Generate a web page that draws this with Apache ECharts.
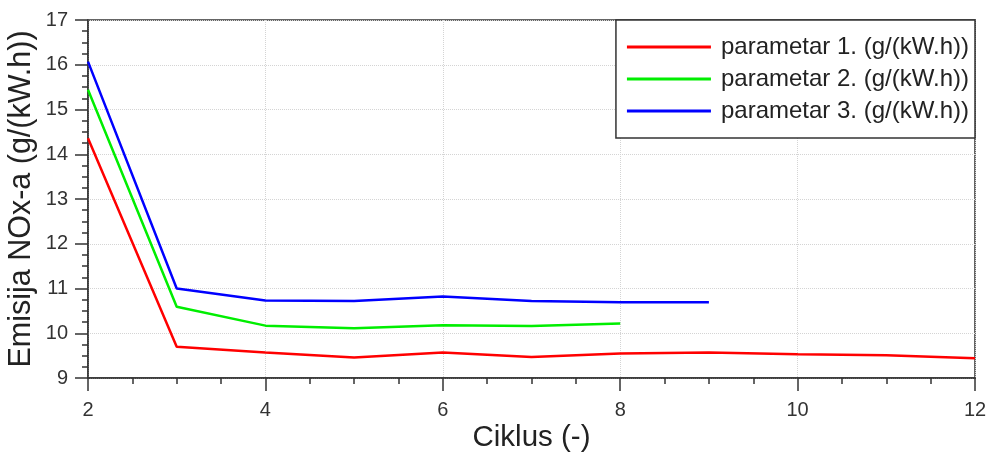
<!DOCTYPE html>
<html>
<head>
<meta charset="utf-8">
<script src="https://cdn.jsdelivr.net/npm/echarts@6/dist/echarts.min.js"></script>
<style>
  html, body { margin: 0; padding: 0; background: #fff; }
  #chart { width: 991px; height: 458px; }
</style>
</head>
<body>
<div id="chart"></div>
<script>
// ciklusi (x) i vrijednosti emisije po parametru
var cycles = [2, 3, 4, 5, 6, 7, 8, 9, 10, 11, 12];
var param1 = [14.36, 9.70, 9.57, 9.46, 9.57, 9.47, 9.55, 9.57, 9.53, 9.51, 9.44];
var param2 = [15.44, 10.59, 10.17, 10.11, 10.18, 10.16, 10.22];
var param3 = [16.07, 11.00, 10.73, 10.72, 10.82, 10.72, 10.69, 10.69];
var seriesNames = ["parametar 1. (g/(kW.h))", "parametar 2. (g/(kW.h))", "parametar 3. (g/(kW.h))"];
var seriesColors = ["#ff0000", "#00ee00", "#0000ff"];

function pairs(vals) {
  return vals.map(function (v, i) { return [cycles[i], v]; });
}

var myChart = echarts.init(document.getElementById("chart"));
var fontName = "Liberation Sans";

var option = {
  animation: false,
  textStyle: { fontFamily: fontName },
  grid: {
    left: 88, right: 16, top: 20, bottom: 80,
    outerBoundsMode: "none",
    containLabel: false,
    show: true,
    borderColor: "#333",
    borderWidth: 1.5
  },
  legend: {
    orient: "vertical",
    right: 16,
    top: 20,
    backgroundColor: "#fff",
    borderColor: "#333",
    borderWidth: 1.5,
    padding: [15, 6, 15, 11],
    itemGap: 8,
    itemWidth: 84,
    itemHeight: 3,
    icon: "rect",
    textStyle: { fontSize: 24, color: "#222", fontFamily: fontName, padding: [0, 0, 0, 5] },
    data: seriesNames
  },
  xAxis: {
    type: "value",
    min: 2,
    max: 12,
    interval: 2,
    name: "Ciklus (-)",
    nameLocation: "middle",
    nameGap: 45,
    nameMoveOverlap: false,
    nameTextStyle: { fontSize: 29.5, color: "#222", fontFamily: fontName },
    axisLine: { lineStyle: { color: "#333", width: 1.5 } },
    axisTick: { show: true, length: 13, lineStyle: { color: "#333", width: 1.5 } },
    minorTick: { show: true, splitNumber: 4, length: 6, lineStyle: { color: "#333", width: 1.5 } },
    axisLabel: { fontSize: 20, color: "#333", margin: 22, fontFamily: fontName },
    splitLine: { show: true, lineStyle: { color: "#d4d4d4", type: "dotted", width: 1 } }
  },
  yAxis: {
    type: "value",
    min: 9,
    max: 17,
    interval: 1,
    name: "Emisija NOx-a (g/(kW.h))",
    nameLocation: "middle",
    nameGap: 51,
    nameMoveOverlap: false,
    nameTextStyle: { fontSize: 30.5, color: "#222", fontFamily: fontName },
    axisLine: { show: true, lineStyle: { color: "#333", width: 1.5 } },
    axisTick: { show: true, length: 13, lineStyle: { color: "#333", width: 1.5 } },
    minorTick: { show: true, splitNumber: 4, length: 6, lineStyle: { color: "#333", width: 1.5 } },
    axisLabel: { fontSize: 20, color: "#333", margin: 20, fontFamily: fontName },
    splitLine: { show: true, lineStyle: { color: "#d4d4d4", type: "dotted", width: 1 } }
  },
  series: [param1, param2, param3].map(function (vals, i) {
    return {
      name: seriesNames[i],
      type: "line",
      data: pairs(vals),
      symbol: "none",
      color: seriesColors[i],
      lineStyle: { color: seriesColors[i], width: 2.5 },
      z: 3
    };
  })
};

myChart.setOption(option);
</script>
</body>
</html>
